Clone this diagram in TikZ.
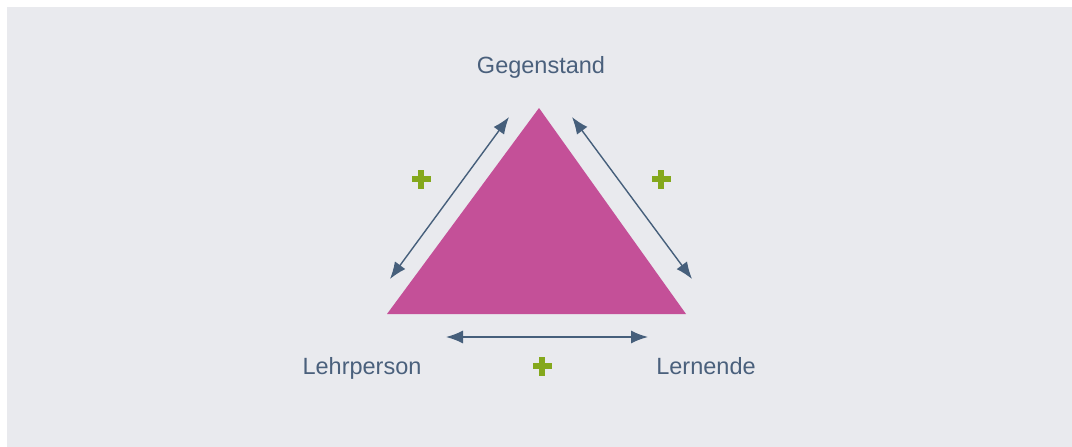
\documentclass[tikz,border=0pt]{standalone}
\usepackage{fontspec}
\setmainfont{Liberation Sans}
\usetikzlibrary{arrows.meta,calc}
\definecolor{bgc}{HTML}{E9EAEE}
\definecolor{trifill}{HTML}{C45098}
\definecolor{arrc}{HTML}{465F7B}
\definecolor{txtc}{HTML}{4A607C}
\definecolor{plusc}{HTML}{84A81C}
\tikzset{
  lbl/.style={font=\fontsize{23.5}{28}\selectfont, text=txtc, anchor=base, inner sep=0pt},
  dblarrow/.style={arrc, line width=1.4pt, {Latex[length=17pt,width=13pt]}-{Latex[length=17pt,width=13pt]}},
  plusbar/.style={fill=plusc}
}
\newcommand{\plussign}[1]{%
  \fill[plusbar] ($(#1)+(-9.5,-2.8)$) rectangle ($(#1)+(9.5,2.8)$);
  \fill[plusbar] ($(#1)+(-2.8,-9.5)$) rectangle ($(#1)+(2.8,9.5)$);}
\begin{document}
\begin{tikzpicture}[x=1pt,y=-1pt]
\useasboundingbox (0,0) rectangle (1072,447);
\fill[white] (0,0) rectangle (1072,447);
\fill[bgc] (7,7) rectangle (1072,447);
% triangle
\fill[trifill] (539,108) -- (686,314) -- (387,314) -- cycle;
% labels
\node[lbl] (geg) at (541,73) {Gegenstand};
\node[lbl] (lehr) at (362,374) {Lehrperson};
\node[lbl] (lern) at (706,374) {Lernende};
% arrow end points
\coordinate (la) at (509,117);
\coordinate (lb) at (390,279);
\coordinate (ra) at (572,117);
\coordinate (rb) at (692,279);
\coordinate (ba) at (446,337);
\coordinate (bb) at (648,337);
\draw[dblarrow] (lb) -- (la);
\draw[dblarrow] (ra) -- (rb);
\draw[dblarrow] (ba) -- (bb);
% plus signs
\coordinate (p1) at (421,179);
\coordinate (p2) at (661,179);
\coordinate (p3) at (542,366);
\plussign{p1}
\plussign{p2}
\plussign{p3}
\end{tikzpicture}
\end{document}
